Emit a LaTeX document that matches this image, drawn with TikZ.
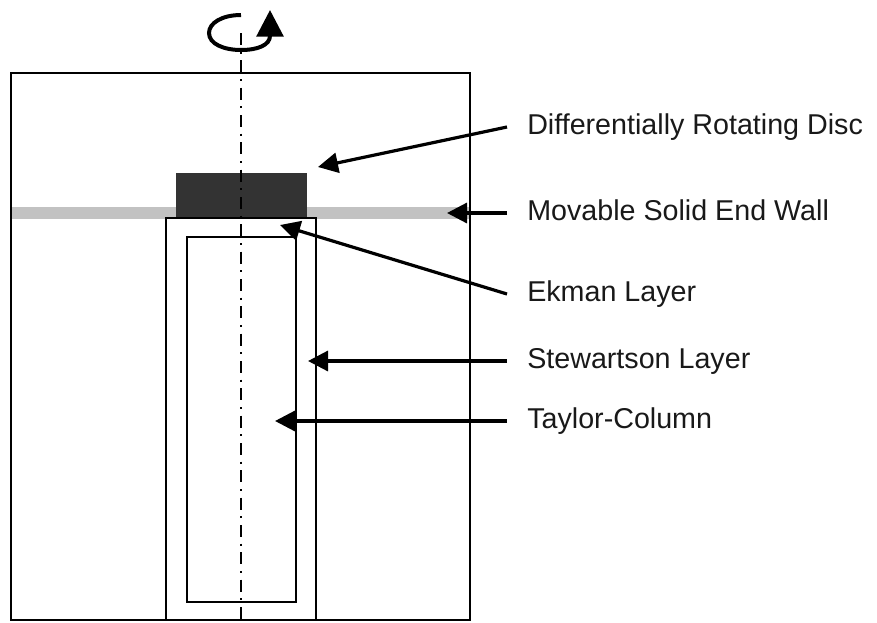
\documentclass[tikz,border=0pt]{standalone}
\usepackage{fontspec}
\setmainfont{Liberation Sans}
\usepackage{tikz}
\usetikzlibrary{arrows.meta}

\begin{document}
\begin{tikzpicture}[x=0.75pt, y=-0.75pt,
    pointer/.style={line width=2.4pt, -{Triangle[length=15pt, width=15pt]}},
    lbl/.style={anchor=base west, inner sep=0pt, font=\fontsize{21.5}{26}\selectfont, text=black!90}]
  \useasboundingbox (0,0) rectangle (877,622);
  % Wall and disc
  \fill [black!24] (11,207) rectangle (470,219);
  \fill [black!80] (176,173) rectangle (307,218);
  % Boxes
  \draw [line width=1.9pt] (11,73) rectangle (470,620);
  \draw [line width=1.6pt] (166,218) rectangle (316,620);
  \draw [line width=1.6pt] (187,237) rectangle (296,602);
  % Axis
  \draw [line width=1.5pt, dash pattern=on 9pt off 5pt on 1.5pt off 5pt] (241,33) -- (241,620);
  % Rotation
  \draw [line width=3pt, -{Triangle[length=20pt, width=20pt]}] (241,15) .. controls (222,15) and (209,23) .. (209,33)
        .. controls (209,44) and (224,50) .. (241,50) .. controls (258,50) and (270,45) .. (270,10);
  % Labels
  \node [lbl] (disc)   at (527,134) {Differentially Rotating Disc};
  \node [lbl] (wall)   at (527,220) {Movable Solid End Wall};
  \node [lbl] (ekman)  at (527,301) {Ekman Layer};
  \node [lbl] (stew)   at (527,368) {Stewartson Layer};
  \node [lbl] (taylor) at (527,428) {Taylor-Column};
  \coordinate (disc-tip)   at (318,167);
  \coordinate (wall-tip)   at (447,213);
  \coordinate (ekman-tip)  at (280,225);
  \coordinate (stew-tip)   at (308,361);
  \coordinate (taylor-tip) at (275,421);
  \foreach \n in {disc, wall, ekman, stew, taylor}
    \draw [pointer] ([shift={(-20,-7)}]\n.base west) -- (\n-tip);
\end{tikzpicture}
\end{document}
